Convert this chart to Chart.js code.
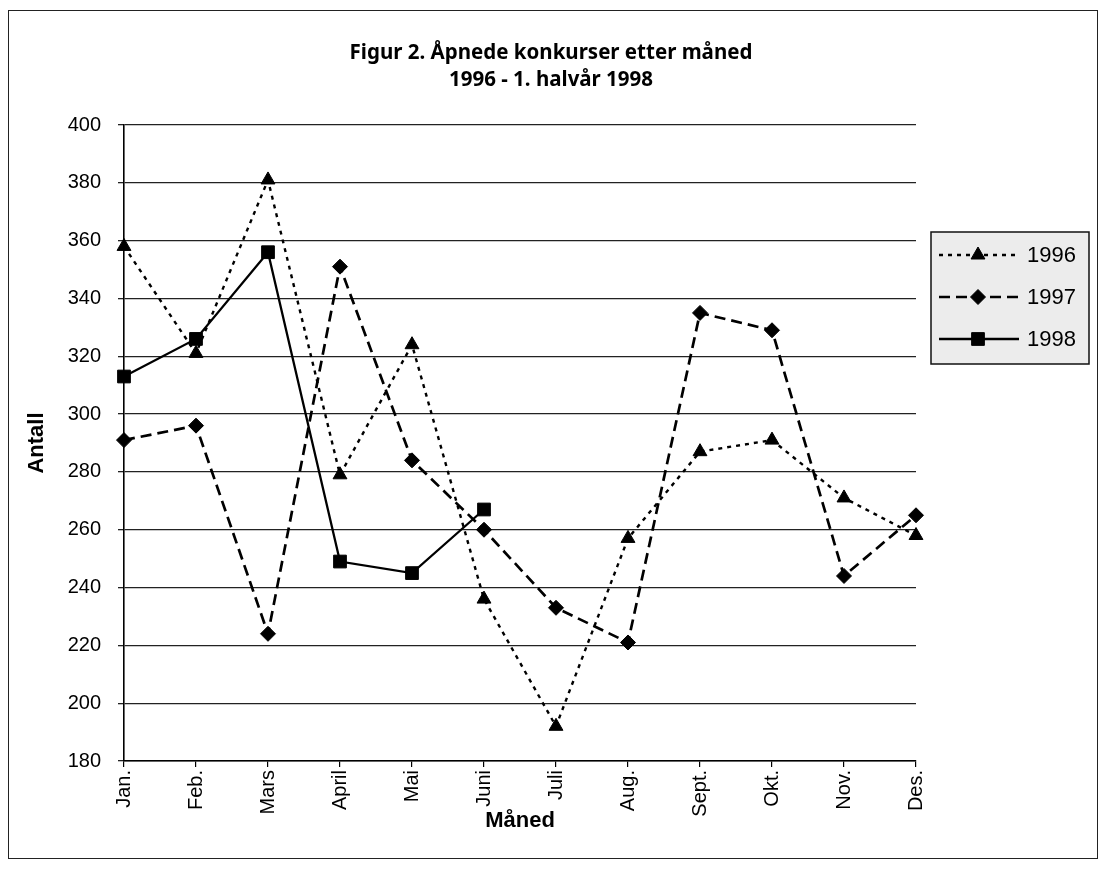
<!DOCTYPE html>
<html><head><meta charset="utf-8">
<script src="https://cdn.jsdelivr.net/npm/chart.js@4.4.0/dist/chart.umd.min.js"></script>
<style>
html,body{margin:0;padding:0;background:#fff;}
#wrap{position:relative;width:1104px;height:874px;overflow:hidden;}
#frame{position:absolute;left:8px;top:10px;width:1090px;height:849px;border:1.5px solid #222;box-sizing:border-box;}
canvas{position:absolute;left:0;top:0;}
</style></head><body>
<div id="wrap"><div id="frame"></div><canvas id="c" width="1104" height="874"></canvas></div>
<script>
const categories = ['Jan.','Feb.','Mars','April','Mai','Juni','Juli','Aug.','Sept.','Okt.','Nov.','Des.'];
const values1996 = [358,321,381,279,324,236,192,257,287,291,271,258];
const values1997 = [291,296,224,351,284,260,233,221,335,329,244,265];
const values1998 = [313,326,356,249,245,267];
const seriesLabels = ['1996','1997','1998'];
const titleLines = ['Figur 2. Åpnede konkurser etter måned','1996 - 1. halvår 1998'];
const yTitle = 'Antall';
const xTitle = 'Måned';
const yMin = 180, yMax = 400, yStep = 20;

const FONT = "'Liberation Sans', Arial, sans-serif";

const pageTitle = {
  id: 'pageTitle',
  afterDraw(chart) {
    const ctx = chart.ctx;
    ctx.save();
    ctx.fillStyle = '#000';
    ctx.font = "bold 20.5px 'Noto Sans', 'Open Sans', sans-serif";
    ctx.textAlign = 'center';
    ctx.textBaseline = 'middle';
    titleLines.forEach((t, i) => ctx.fillText(t, 551, 53 + i * 27));
    ctx.restore();
  }
};

const boxLegend = {
  id: 'boxLegend',
  afterDraw(chart) {
    const ctx = chart.ctx;
    const bx = 931, by = 232, bw = 158, bh = 132;
    ctx.save();
    ctx.fillStyle = '#ececec';
    ctx.fillRect(bx, by, bw, bh);
    ctx.lineWidth = 1.5;
    ctx.strokeStyle = '#111';
    ctx.setLineDash([]);
    ctx.strokeRect(bx, by, bw, bh);
    chart.data.datasets.forEach((ds, i) => {
      const y = by + 23 + i * 42;
      ctx.strokeStyle = '#000';
      ctx.lineWidth = ds.borderWidth;
      ctx.setLineDash(ds.borderDash || []);
      ctx.beginPath();
      ctx.moveTo(bx + 8, y);
      ctx.lineTo(bx + 88, y);
      ctx.stroke();
      ctx.setLineDash([]);
      ctx.fillStyle = '#000';
      ctx.lineWidth = 1;
      Chart.helpers.drawPoint(ctx, {pointStyle: ds.pointStyle, radius: ds.pointRadius, borderWidth: 1, rotation: 0}, bx + 47, y);
      ctx.fillStyle = '#000';
      ctx.font = '22px ' + FONT;
      ctx.textAlign = 'left';
      ctx.textBaseline = 'middle';
      ctx.fillText(ds.label, bx + 96, y + 1);
    });
    ctx.restore();
  }
};

new Chart(document.getElementById('c'), {
  type: 'line',
  data: {
    labels: categories,
    datasets: [
      {label: seriesLabels[0], data: values1996, borderColor: '#000', backgroundColor: '#000', borderWidth: 2.4, borderDash: [4, 5],
       pointStyle: 'triangle', pointRadius: 8, pointBorderWidth: 1, pointBackgroundColor: '#000', pointBorderColor: '#000', tension: 0, fill: false},
      {label: seriesLabels[1], data: values1997, borderColor: '#000', backgroundColor: '#000', borderWidth: 2.7, borderDash: [11, 6],
       pointStyle: 'rectRot', pointRadius: 7.5, pointBorderWidth: 1, pointBackgroundColor: '#000', pointBorderColor: '#000', tension: 0, fill: false},
      {label: seriesLabels[2], data: values1998, borderColor: '#000', backgroundColor: '#000', borderWidth: 2.3,
       pointStyle: 'rect', pointRadius: 9, pointBorderWidth: 1, pointBackgroundColor: '#000', pointBorderColor: '#000', tension: 0, fill: false}
    ]
  },
  options: {
    responsive: false,
    animation: false,
    devicePixelRatio: 1,
    layout: {padding: {left: 0, right: 188, top: 125, bottom: 0}},
    plugins: {
      legend: {display: false},
      tooltip: {enabled: false},
      title: {display: false}
    },
    scales: {
      x: {
        type: 'category',
        offset: false,
        afterFit(scale) { scale.height = 113; },
        grid: {drawOnChartArea: false, drawTicks: true, tickLength: 6, color: '#000', lineWidth: 1.2},
        border: {display: true, color: '#000', width: 1.6},
        ticks: {color: '#000', font: {family: FONT, size: 20}, maxRotation: 90, minRotation: 90, padding: 3, autoSkip: false},
        title: {display: true, text: xTitle, color: '#000', font: {family: FONT, size: 22, weight: 'bold'}, padding: {top: 0, bottom: 40}}
      },
      y: {
        min: yMin, max: yMax,
        afterFit(scale) { scale.width = 124; },
        grid: {drawOnChartArea: true, drawTicks: true, tickLength: 6, color: '#222', lineWidth: 1.3},
        border: {display: true, color: '#000', width: 1.6},
        ticks: {stepSize: yStep, color: '#000', font: {family: FONT, size: 20}, padding: 17},
        title: {display: true, text: yTitle, color: '#000', font: {family: FONT, size: 22, weight: 'bold'}, padding: {top: 24, bottom: 0}}
      }
    }
  },
  plugins: [pageTitle, boxLegend]
});
</script>
</body></html>
